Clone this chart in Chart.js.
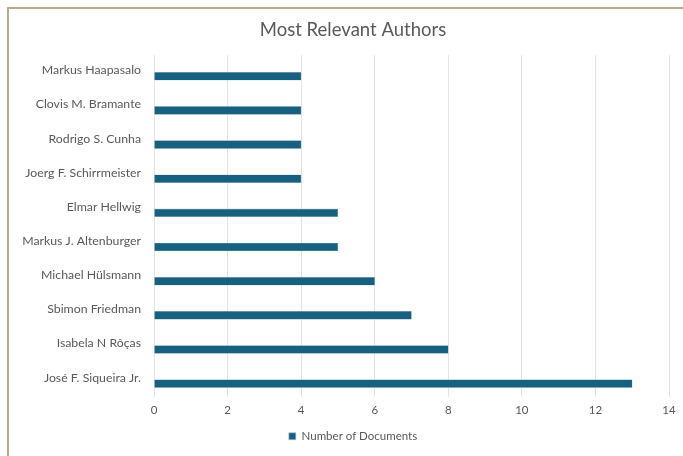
<!DOCTYPE html>
<html>
<head>
<meta charset="utf-8">
<script src="https://cdn.jsdelivr.net/npm/chart.js@4"></script>
<style>
    html, body { margin: 0; padding: 0; background: #fff; overflow: hidden; }
    #frame {
        position: absolute; left: 7px; top: 7px; width: 720px; height: 470px;
        border-left: 2px solid #c2a787; border-top: 2px solid #c2a787;
    }
    #wrap { position: absolute; left: 0; top: 0; width: 690px; height: 447px; }
</style>
</head>
<body>
<div id="frame"><div id="wrap"><canvas id="myBarChart"></canvas></div></div>
<script>
const authors = [
    'Markus Haapasalo',
    'Clovis M. Bramante',
    'Rodrigo S. Cunha',
    'Joerg F. Schirrmeister',
    'Elmar Hellwig',
    'Markus J. Altenburger',
    'Michael Hülsmann',
    'Sbimon Friedman',
    'Isabela N Rôças',
    'José F. Siqueira Jr.'
];
const documents = [4, 4, 4, 4, 5, 5, 6, 7, 8, 13];
// second, empty series in the source workbook (takes the upper half of each slot)
const spacer = authors.map(() => null);
const x_ticks = [0, 2, 4, 6, 8, 10, 12, 14];

window.onload = () => {
    bar_graph(authors, documents);
}

// excel centres title and legend a bit right of the canvas middle
const shift_header = {
    id: 'shift_header',
    afterLayout(chart) {
        [chart.titleBlock, chart.legend].forEach(box => {
            if (box) { box.left += 14; box.right += 14; }
        });
    }
};

function bar_graph(labels, values) {
    const ctx = document.getElementById('myBarChart').getContext('2d');
    Chart.defaults.font.family = 'Lato, "Open Sans", sans-serif';
    Chart.defaults.color = '#595959';

    window.myBarChart = new Chart(ctx, {
        type: 'bar',
        data: {
            labels: labels,
            datasets: [{
                label: '',
                data: spacer,
                backgroundColor: 'rgba(0,0,0,0)'
            }, {
                label: 'Number of Documents',
                data: values,
                backgroundColor: '#17607f',
                borderColor: '#a9c4d2',
                borderWidth: 0.6,
                barThickness: 8
            }]
        },
        plugins: [shift_header],
        options: {
            indexAxis: 'y',
            responsive: true,
            maintainAspectRatio: false,
            animation: false,
            categoryPercentage: 0.98,
            layout: { padding: { left: 0, right: 30, top: 0, bottom: 4 } },
            plugins: {
                title: {
                    display: true,
                    text: 'Most Relevant Authors',
                    color: '#595959',
                    font: { size: 18.5, weight: 'normal' },
                    padding: { top: 10, bottom: 14 }
                },
                legend: {
                    position: 'bottom',
                    labels: {
                        boxWidth: 7,
                        boxHeight: 7,
                        padding: 6,
                        color: '#595959',
                        font: { size: 11.5 },
                        filter: (item) => item.text !== ''
                    }
                },
                tooltip: { enabled: false }
            },
            scales: {
                x: {
                    min: x_ticks[0],
                    max: x_ticks[x_ticks.length - 1],
                    ticks: {
                        stepSize: 2,
                        color: '#595959',
                        font: { size: 11.5 },
                        padding: 7
                    },
                    grid: { color: '#e3e3e3', drawTicks: false },
                    border: { display: false }
                },
                y: {
                    afterFit: (scale) => { scale.width = 145; },
                    ticks: {
                        color: '#595959',
                        font: { size: 12.3 },
                        padding: 5,
                        labelOffset: -2
                    },
                    grid: { display: false },
                    border: { display: false }
                }
            }
        }
    });
}
</script>
</body>
</html>
